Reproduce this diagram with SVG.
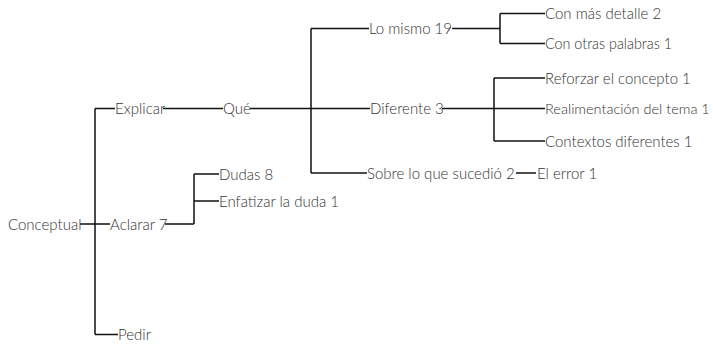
<svg xmlns="http://www.w3.org/2000/svg" width="713" height="348" viewBox="0 0 713 348">
<style>
text{font-family:"Lato","Open Sans","DejaVu Sans",sans-serif;font-size:15px;font-weight:300;fill:#333;}
.c path{stroke:#111;stroke-width:1.5;fill:none;}
</style>
<rect width="713" height="348" fill="#fff"/>
<g class="c" id="connectors">
<path d="M80,224H110M95,108.5V334.5M95,108.5H115M95,334.5H118"/>
<path d="M163,108.5H223"/>
<path d="M250,108.5H370M311,28.5V173M311,28.5H369M311,173H367"/>
<path d="M452,28.5H500M500,13.5V43.5M500,13.5H545M500,43.5H545"/>
<path d="M442,108.5H545M494,78V141M494,78H545M494,141H545"/>
<path d="M516,173H536"/>
<path d="M165,224H194M194,174V224M194,174H219M194,201H219"/>
</g>
<g id="n-conceptual"><text x="8" y="229.5">Conceptual</text></g>
<g id="n-explicar"><text x="115" y="114">Explicar</text></g>
<g id="n-que"><text x="223" y="114">Qué</text></g>
<g id="n-lomismo"><text x="369" y="34">Lo mismo 19</text></g>
<g id="n-detalle"><text x="545" y="19">Con más detalle 2</text></g>
<g id="n-otras"><text x="545" y="49" textLength="127" lengthAdjust="spacingAndGlyphs">Con otras palabras 1</text></g>
<g id="n-diferente"><text x="370" y="114">Diferente 3</text></g>
<g id="n-reforzar"><text x="545" y="83.5">Reforzar el concepto 1</text></g>
<g id="n-realim"><text x="545" y="114" style="font-size:14.5px">Realimentación del tema 1</text></g>
<g id="n-contextos"><text x="545" y="146.5">Contextos diferentes 1</text></g>
<g id="n-sobre"><text x="367" y="178.5">Sobre lo que sucedió 2</text></g>
<g id="n-error"><text x="537" y="178.5">El error 1</text></g>
<g id="n-aclarar"><text x="110" y="229.5">Aclarar 7</text></g>
<g id="n-dudas"><text x="219" y="179.5">Dudas 8</text></g>
<g id="n-enfatizar"><text x="219" y="206.5">Enfatizar la duda 1</text></g>
<g id="n-pedir"><text x="118" y="340">Pedir</text></g>
</svg>
